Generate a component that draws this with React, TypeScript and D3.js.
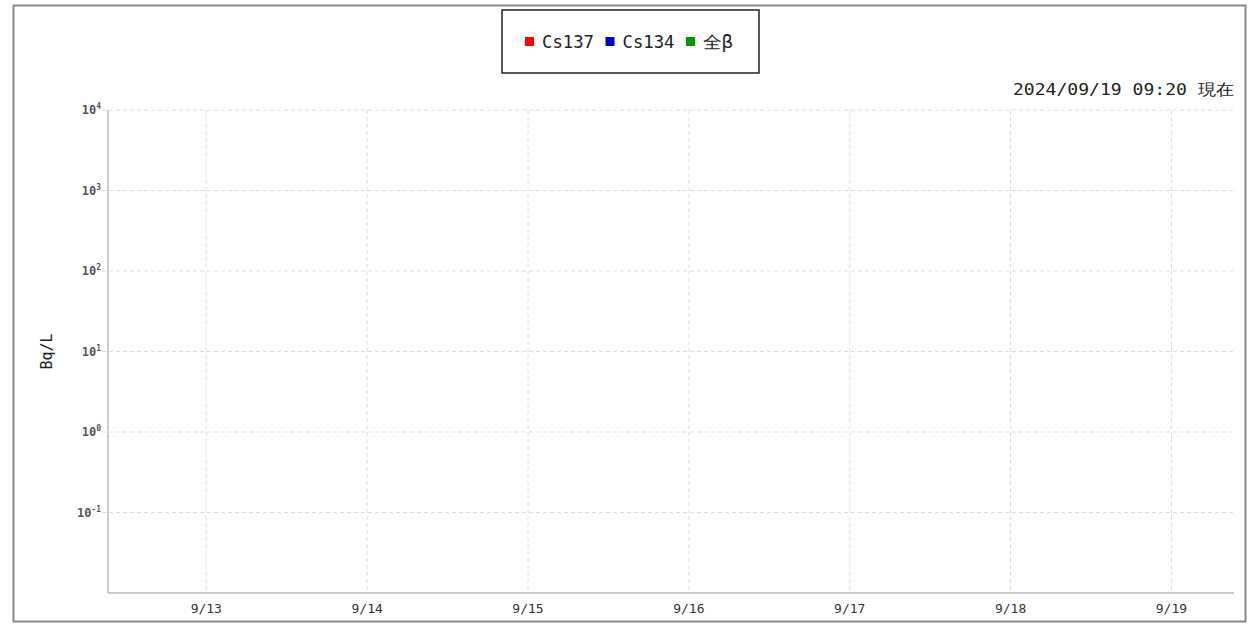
import React from "react";
import * as d3 from "d3";

const seriesNames = ["Cs137", "Cs134", "全β"];
const seriesColors = ["#ff0000", "#0000cc", "#009900"];
const cs137: { t: Date; v: number }[] = [];
const cs134: { t: Date; v: number }[] = [];
const allBeta: { t: Date; v: number }[] = [];
const dayTicks = ["2024-09-13", "2024-09-14", "2024-09-15", "2024-09-16", "2024-09-17", "2024-09-18", "2024-09-19"];
const yTickPowers = [4, 3, 2, 1, 0, -1];
const stamp = "2024/09/19 09:20 現在";

const W = 1248, H = 624;
const margin = { left: 108, right: 14, top: 110, bottom: 31 };

export default function App() {
  const x = d3
    .scaleTime()
    .domain([new Date(2024, 8, 12, 9, 20), new Date(2024, 8, 19, 9, 20)])
    .range([margin.left, W - margin.right]);
  const y = d3.scaleLog().domain([1e-2, 1e4]).range([H - margin.bottom, margin.top]);
  const line = d3.line<{ t: Date; v: number }>().x((d) => x(d.t)).y((d) => y(d.v));
  const data = [cs137, cs134, allBeta];
  const font = "'DejaVu Sans Mono', monospace";
  const ticks = dayTicks.map((s) => {
    const [yy, mm, dd] = s.split("-").map(Number);
    return new Date(yy, mm - 1, dd);
  });
  const [x0, x1] = x.range();
  const [yb, yt] = y.range();

  return (
    <svg width={W} height={H} style={{ position: "absolute", left: 0, top: 0 }} fontFamily={font}>
      <rect x={13.5} y={5.5} width={1232} height={616} fill="#fff" stroke="#888" strokeWidth={2} />
      {ticks.map((d, i) => (
        <g key={i}>
          <line x1={x(d)} x2={x(d)} y1={yt} y2={yb} stroke="#ddd" strokeDasharray="4,3" />
          <text x={x(d)} y={yb + 20} textAnchor="middle" fontSize={13} fill="#333">
            {d3.timeFormat("%-m/%-d")(d)}
          </text>
        </g>
      ))}
      {yTickPowers.map((p) => (
        <g key={p}>
          <line x1={x0 - 6} x2={x1} y1={y(10 ** p)} y2={y(10 ** p)} stroke="#ddd" strokeDasharray="4,3" />
          <text x={x0 - 7} y={y(10 ** p) + 4} textAnchor="end" fontSize={12} fontWeight="bold" fill="#555">
            10
            <tspan dy={-5} fontSize={8}>{p}</tspan>
          </text>
        </g>
      ))}
      <line x1={x0} x2={x0} y1={yt} y2={yb} stroke="#bbb" strokeWidth={1.5} />
      <line x1={x0} x2={x1} y1={yb} y2={yb} stroke="#bbb" strokeWidth={1.5} />
      {data.map((s, i) => (
        <path key={i} d={line(s) ?? ""} fill="none" stroke={seriesColors[i]} strokeWidth={1.5} />
      ))}
      <text transform={`translate(52,${y(10)}) rotate(-90)`} textAnchor="middle" fontSize={15} fill="#222">Bq/L</text>
      <text x={1013} y={95} fontSize={16} fill="#222" textLength={221} lengthAdjust="spacingAndGlyphs">{stamp}</text>
      <rect x={502} y={10} width={257} height={63} fill="#fff" stroke="#222" strokeWidth={1.5} />
      {seriesNames.map((n, i) => {
        const cx = 525 + i * 80.5;
        return (
          <g key={n}>
            <rect x={cx} y={37} width={9} height={9} fill={seriesColors[i]} />
            <text x={cx + 17} y={48} fontSize={17} fill="#222" textLength={n.length === 2 ? 30 : 52} lengthAdjust="spacingAndGlyphs">{n}</text>
          </g>
        );
      })}
    </svg>
  );
}
